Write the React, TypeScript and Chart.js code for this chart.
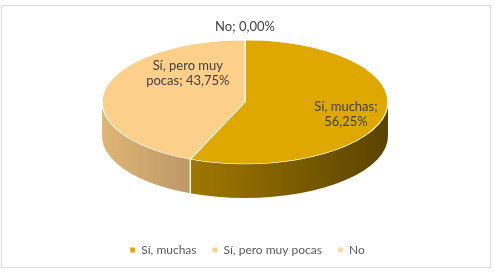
import { useEffect, useRef } from "react";
import { Chart, registerables } from "chart.js";

Chart.register(...registerables);

const categories = ["Sí, muchas", "Sí, pero muy pocas", "No"];
const values = [56.25, 43.75, 0];
const percentLabels = ["56,25%", "43,75%", "0,00%"];

const topColors = ["#DEA800", "#FCD08B", "#FDDAA2"];
const sideColors = [
  ["#A07800", "#5A4300"],
  ["#E0B675", "#BC9768"],
  ["#E0B675", "#BC9768"],
];
// label anchors in unit-ellipse coordinates (Excel "best fit" placement)
const labelAnchors = [
  [0.706, 0.2],
  [-0.4, -0.46],
  [0, -1.21],
];

const GEO = { cx: 245, cy: 102, rx: 143, ry: 62, depth: 34 };
const FONT = "Lato, 'Open Sans', sans-serif";

function wrap(ctx: CanvasRenderingContext2D, text: string, maxW: number) {
  const words = text.split(" ");
  const lines: string[] = [];
  let cur = "";
  for (const w of words) {
    const test = cur ? cur + " " + w : w;
    if (cur && ctx.measureText(test).width > maxW) {
      lines.push(cur);
      cur = w;
    } else cur = test;
  }
  if (cur) lines.push(cur);
  return lines;
}

const pie3d = {
  id: "pie3d",
  beforeDraw(chart: any) {
    const ctx = chart.ctx;
    ctx.save();
    ctx.fillStyle = "#fff";
    ctx.fillRect(0, 0, chart.width, chart.height);
    ctx.strokeStyle = "#D9D9D9";
    ctx.lineWidth = 1;
    ctx.strokeRect(1.5, 5.5, 489, 262);
    ctx.restore();
  },
  beforeDatasetsDraw(chart: any) {
    const ctx = chart.ctx;
    const { cx, cy, rx, ry, depth } = GEO;
    const arcs = chart.getDatasetMeta(0).data;
    ctx.save();
    arcs.forEach((arc: any, i: number) => {
      const { startAngle, endAngle } = arc.getProps(["startAngle", "endAngle"], true);
      for (let k = -1; k <= 1; k++) {
        const lo = Math.max(startAngle, 2 * Math.PI * k);
        const hi = Math.min(endAngle, Math.PI + 2 * Math.PI * k);
        if (hi - lo > 1e-6) {
          const xa = cx + rx * Math.cos(lo);
          const xb = cx + rx * Math.cos(hi);
          const g = ctx.createLinearGradient(Math.min(xa, xb), 0, Math.max(xa, xb), 0);
          g.addColorStop(0, sideColors[i][0]);
          g.addColorStop(1, sideColors[i][1]);
          ctx.beginPath();
          ctx.ellipse(cx, cy, rx, ry, 0, lo, hi, false);
          ctx.ellipse(cx, cy + depth, rx, ry, 0, hi, lo, true);
          ctx.closePath();
          ctx.fillStyle = g;
          ctx.fill();
        }
      }
    });
    // dividers on the side wall
    ctx.strokeStyle = "#ffffff";
    ctx.lineWidth = 1;
    arcs.forEach((arc: any) => {
      const { startAngle, endAngle } = arc.getProps(["startAngle", "endAngle"], true);
      [startAngle, endAngle].forEach((a: number) => {
        const s = Math.sin(a);
        if (s > 0.02) {
          const x = cx + rx * Math.cos(a);
          const y = cy + ry * s;
          ctx.beginPath();
          ctx.moveTo(x, y);
          ctx.lineTo(x, y + depth);
          ctx.stroke();
        }
      });
    });
    ctx.restore();

    const a0 = arcs[0];
    const R = a0.outerRadius;
    ctx.save();
    ctx.translate(cx, cy);
    ctx.scale(rx / R, ry / R);
    ctx.translate(-a0.x, -a0.y);
  },
  afterDatasetsDraw(chart: any) {
    const ctx = chart.ctx;
    ctx.restore();
    const { cx, cy, rx, ry } = GEO;
    ctx.save();
    ctx.font = "13px " + FONT;
    ctx.fillStyle = "#404040";
    ctx.textAlign = "center";
    ctx.textBaseline = "middle";
    categories.forEach((c, i) => {
      const text = c + "; " + percentLabels[i];
      const lines = wrap(ctx, text, 90);
      const lh = 15.5;
      const x = cx + labelAnchors[i][0] * rx;
      const y = cy + labelAnchors[i][1] * ry;
      lines.forEach((ln, j) => {
        ctx.fillText(ln, x, y + (j - (lines.length - 1) / 2) * lh);
      });
    });
    ctx.restore();
  },
};

export default function App() {
  const ref = useRef<HTMLCanvasElement>(null);
  useEffect(() => {
    document.body.style.margin = "0";
    const chart = new Chart(ref.current as HTMLCanvasElement, {
      type: "pie",
      data: {
        labels: categories,
        datasets: [
          {
            data: values,
            backgroundColor: topColors,
            borderColor: "#ffffff",
            borderWidth: 0.9,
            clip: false as any,
          } as any,
        ],
      },
      options: {
        responsive: false,
        animation: false,
        devicePixelRatio: 1,
        layout: { padding: { bottom: 7, top: 10, left: 10, right: 10 } },
        plugins: {
          legend: {
            position: "bottom",
            labels: {
              boxWidth: 5,
              boxHeight: 5,
              padding: 16,
              color: "#595959",
              font: { family: FONT, size: 12 },
              generateLabels: (ch: any) =>
                (Chart as any).overrides.pie.plugins.legend.labels
                  .generateLabels(ch)
                  .map((l: any) => ({ ...l, lineWidth: 0 })),
            },
          },
          tooltip: { enabled: false },
        },
      } as any,
      plugins: [pie3d],
    });
    return () => chart.destroy();
  }, []);
  return (
    <div style={{ width: 495, height: 273 }}>
      <canvas ref={ref} width={495} height={273} />
    </div>
  );
}
